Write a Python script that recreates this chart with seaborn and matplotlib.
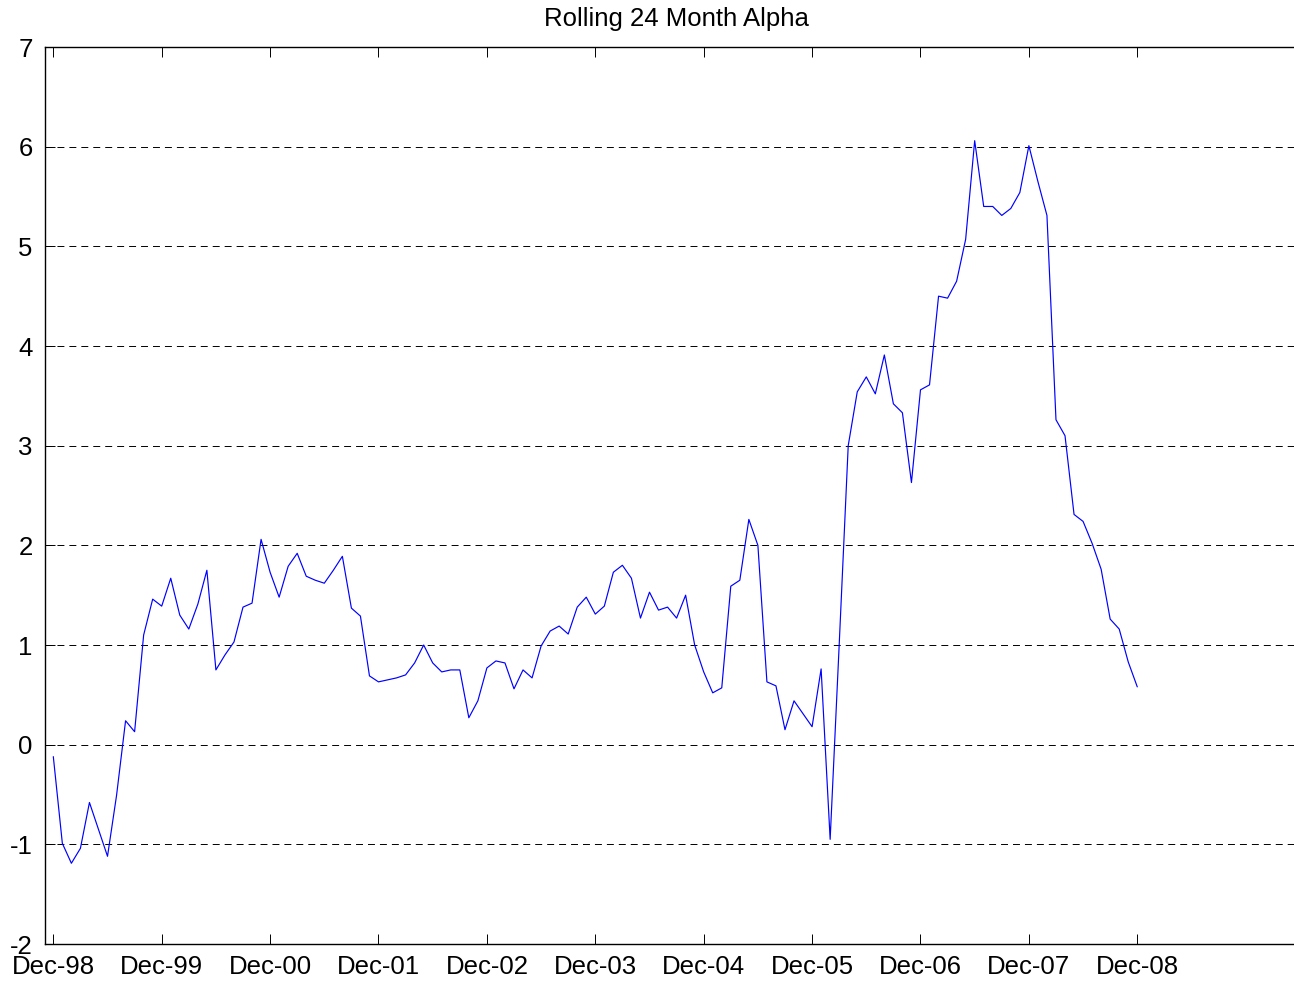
import numpy as np
import pandas as pd
import matplotlib
matplotlib.use('Agg')
import matplotlib.pyplot as plt
import seaborn as sns

# Rolling 24 month alpha, monthly values Dec-98 .. Dec-08
alpha = [-0.12, -0.99, -1.19, -1.04, -0.58, -0.85, -1.12, -0.51, 0.24, 0.13,
         1.10, 1.46, 1.39, 1.67, 1.30, 1.16, 1.41, 1.75, 0.75, 0.90,
         1.03, 1.38, 1.42, 2.06, 1.73, 1.48, 1.79, 1.92, 1.69, 1.65,
         1.62, 1.75, 1.89, 1.37, 1.29, 0.69, 0.63, 0.65, 0.67, 0.70,
         0.82, 1.00, 0.82, 0.73, 0.75, 0.75, 0.27, 0.44, 0.77, 0.84,
         0.82, 0.56, 0.75, 0.67, 0.99, 1.14, 1.19, 1.11, 1.38, 1.48,
         1.31, 1.39, 1.73, 1.80, 1.67, 1.27, 1.53, 1.35, 1.38, 1.27,
         1.50, 1.00, 0.73, 0.52, 0.57, 1.59, 1.65, 2.26, 2.00, 0.63,
         0.59, 0.15, 0.44, 0.31, 0.18, 0.76, -0.95, 1.00, 3.00, 3.54,
         3.69, 3.52, 3.91, 3.42, 3.33, 2.63, 3.56, 3.61, 4.50, 4.48,
         4.65, 5.07, 6.06, 5.40, 5.40, 5.31, 5.38, 5.54, 6.01, 5.65,
         5.31, 3.26, 3.10, 2.31, 2.24, 2.02, 1.76, 1.26, 1.16, 0.83,
         0.58]
month = np.arange(len(alpha))
tick_labels = ['Dec-98', 'Dec-99', 'Dec-00', 'Dec-01', 'Dec-02', 'Dec-03',
               'Dec-04', 'Dec-05', 'Dec-06', 'Dec-07', 'Dec-08']
y_ticks = [-2, -1, 0, 1, 2, 3, 4, 5, 6, 7]

df = pd.DataFrame({'month': month, 'alpha': alpha})

sns.set_style('white')
plt.rcParams['font.family'] = ['Liberation Sans', 'DejaVu Sans']
plt.rcParams['lines.scale_dashes'] = False

fig = plt.figure(figsize=(12.94, 9.82), dpi=100)
W, H = 1294, 982
ax = fig.add_axes([45 / W, 1 - 944 / H, (1308 - 45) / W, (944 - 47) / H])

sns.lineplot(data=df, x='month', y='alpha', color='#0000ff', linewidth=0.85, ax=ax)

ax.set_xlim(-0.92, 138.9)
ax.set_ylim(-2, 7)
ax.set_xticks(np.arange(0, 121, 12))
ax.set_xticklabels(tick_labels)
ax.set_yticks(y_ticks)
ax.set_yticklabels([str(v) for v in y_ticks])
ax.yaxis.grid(True, color='black', linestyle=(0, (5, 3.6)), linewidth=0.7)
ax.xaxis.grid(False)
ax.set_axisbelow(True)

ax.tick_params(axis='both', direction='in', length=7, width=0.7, colors='black',
               labelsize=18.5, top=True, left=True, bottom=True)
ax.tick_params(axis='x', pad=8)
ax.tick_params(axis='y', pad=9)
for side in ['left', 'top', 'bottom']:
    ax.spines[side].set_visible(True)
    ax.spines[side].set_color('black')
    ax.spines[side].set_linewidth(1.0)
ax.spines['right'].set_visible(False)

ax.set_xlabel('')
ax.set_ylabel('')
ax.set_title('Rolling 24 Month Alpha', fontsize=18.5, color='black', pad=15)

fig.savefig('out.png', dpi=100)
